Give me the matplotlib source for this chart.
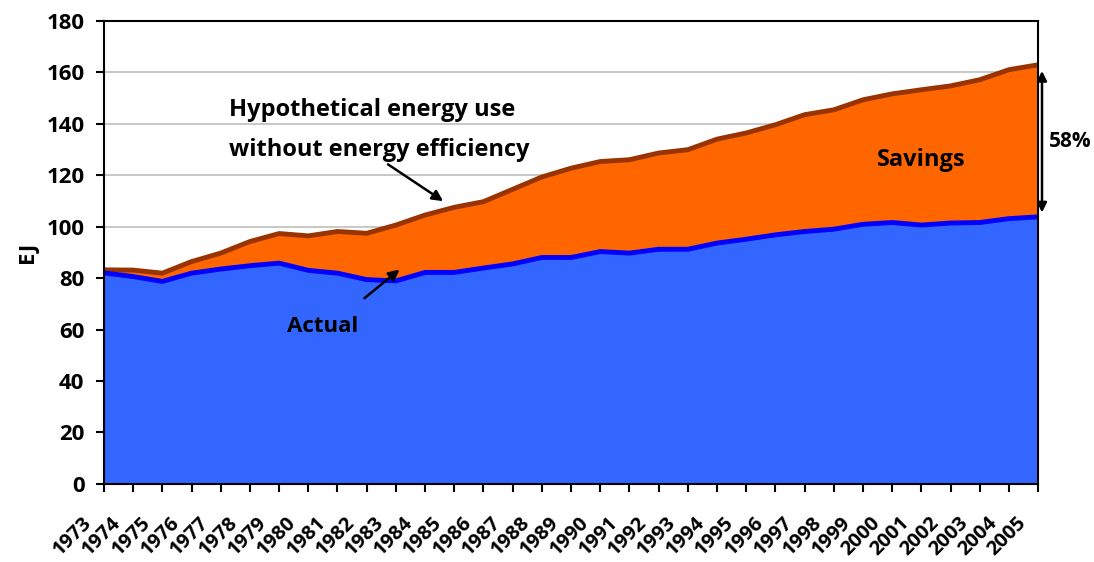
import matplotlib
matplotlib.use("Agg")
import matplotlib.pyplot as plt
import matplotlib.transforms as mtransforms

plt.rcParams["font.family"] = ["Open Sans", "DejaVu Sans"]
plt.rcParams["font.weight"] = "bold"

years = list(range(1973, 2006))
actual = [82.0, 80.6, 78.7, 81.9, 83.5, 84.8, 85.8, 83.0, 81.9, 79.4, 78.9,
          82.2, 82.2, 83.9, 85.5, 88.0, 88.0, 90.3, 89.7, 91.2, 91.2, 93.6,
          95.1, 96.8, 98.1, 99.0, 100.9, 101.6, 100.6, 101.4, 101.6, 103.1, 103.8]
hypothetical = [83.2, 83.1, 81.9, 86.4, 89.7, 94.2, 97.3, 96.4, 98.1, 97.4, 100.6,
                104.5, 107.5, 109.7, 114.5, 119.3, 122.7, 125.3, 126.0, 128.6, 129.9,
                134.0, 136.4, 139.6, 143.5, 145.4, 149.3, 151.6, 153.2, 154.7, 157.1,
                161.0, 162.9]

fig = plt.figure(figsize=(10.94, 5.62), dpi=100)
ax = fig.add_axes([0.095, 0.139, 0.854, 0.824])

ax.fill_between(years, 0, hypothetical, color="#FF6600", zorder=2, linewidth=0)
ax.fill_between(years, 0, actual, color="#3366FF", zorder=3, linewidth=0)
ax.plot(years, hypothetical, color="#993300", linewidth=3.5, zorder=4)
ax.plot(years, actual, color="#0000FF", linewidth=3.5, zorder=5)

ax.set_xlim(1973, 2005)
ax.set_ylim(0, 180)
ax.set_yticks(range(0, 181, 20))
ax.set_xticks(years)
ax.set_xticklabels([str(y) for y in years], rotation=45, ha="right",
                   rotation_mode="anchor", fontsize=14.5, fontweight="bold")
ax.tick_params(axis="y", labelsize=16, length=6, width=1.5, direction="out",
               pad=8)
ax.tick_params(axis="x", length=6, width=1.5, direction="out", pad=15)
for lab in ax.get_yticklabels():
    lab.set_fontweight("bold")
shift = mtransforms.ScaledTranslation(-22 / 100, 0, fig.dpi_scale_trans)
for lab in ax.get_xticklabels():
    lab.set_transform(lab.get_transform() + shift)

ax.yaxis.grid(True, color="#BFBFBF", linewidth=1.2, zorder=0)
ax.set_axisbelow(True)
for spine in ax.spines.values():
    spine.set_linewidth(1.5)
    spine.set_color("black")
    spine.set_zorder(6)

ax.set_ylabel("EJ", fontsize=16, fontweight="bold", labelpad=6)

# annotations
ax.text(1977.3, 145.4, "Hypothetical energy use", fontsize=17,
        fontweight="bold", ha="left", va="center")
ax.text(1977.3, 129.9, "without energy efficiency", fontsize=17,
        fontweight="bold", ha="left", va="center")
ax.annotate("", xy=(1984.7, 109.3), xytext=(1982.65, 124.8),
            arrowprops=dict(arrowstyle="-|>", color="black", lw=1.8,
                            mutation_scale=16), zorder=7)
ax.text(1980.5, 61, "Actual", fontsize=16, fontweight="bold",
        ha="center", va="center", zorder=7)
ax.annotate("", xy=(1983.2, 84.0), xytext=(1981.85, 71.5),
            arrowprops=dict(arrowstyle="-|>", color="black", lw=1.8,
                            mutation_scale=16), zorder=7)
ax.text(2001.0, 126, "Savings", fontsize=17, fontweight="bold",
        ha="center", va="center", zorder=7)
ax.annotate("", xy=(2005.13, 160.5), xytext=(2005.13, 105.5),
            arrowprops=dict(arrowstyle="<|-|>", color="black", lw=1.8,
                            mutation_scale=14, shrinkA=0, shrinkB=0),
            annotation_clip=False, zorder=7)
ax.text(2006.1, 133, "58%", fontsize=15, fontweight="bold",
        ha="center", va="center", clip_on=False)

fig.savefig("out.png", dpi=100)
